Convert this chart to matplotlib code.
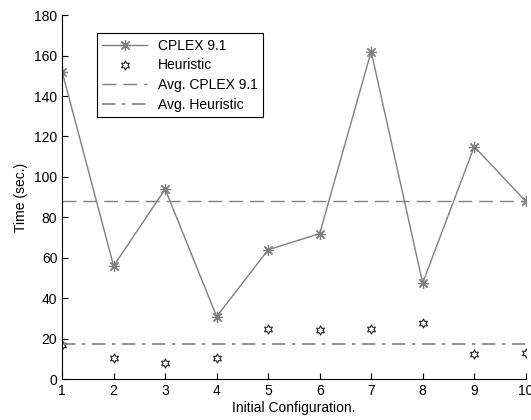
import numpy as np
import matplotlib
matplotlib.use("Agg")
import matplotlib.pyplot as plt
from matplotlib.path import Path

config = [1, 2, 3, 4, 5, 6, 7, 8, 9, 10]
cplex = [152, 56, 94, 31, 64, 72, 162, 47.5, 115, 88]
heuristic = [17, 10.7, 8, 10.7, 25, 24.5, 25, 27.7, 12.5, 13]

plt.rcParams['font.family'] = ['Liberation Sans', 'DejaVu Sans']
plt.rcParams['font.size'] = 10

# six-pointed star (like matlab's hexagram)
ang = np.pi / 2 + np.arange(12) * np.pi / 6
rad = np.where(np.arange(12) % 2 == 0, 1.0, 0.55)
verts = np.column_stack([rad * np.cos(ang), rad * np.sin(ang)])
verts = np.vstack([verts, verts[0]])
hexagram = Path(verts, [Path.MOVETO] + [Path.LINETO] * 11 + [Path.CLOSEPOLY])

fig = plt.figure(figsize=(5.31, 4.2), dpi=100)
ax = fig.add_axes([0.117, 0.097, 0.873, 0.867])

gray = '#808080'
ax.plot(config, cplex, color=gray, lw=1, marker=(8, 2, 0), ms=8, mfc=gray, mec=gray,
        mew=0.9, label='CPLEX 9.1')
ax.plot(config, heuristic, ls='none', marker=hexagram, ms=6.5, mfc='none',
        mec='#222222', mew=0.8, label='Heuristic')
ax.axhline(np.mean(cplex), color=gray, lw=1, ls=(0, (10, 5)), label='Avg. CPLEX 9.1')
ax.axhline(np.mean(heuristic), color=gray, lw=1.2, ls=(0, (8, 4, 2, 4)),
           label='Avg. Heuristic')

ax.set_xlim(1, 10)
ax.set_ylim(0, 180)
ax.set_xticks(config)
ax.set_yticks(range(0, 181, 20))
ax.spines['top'].set_visible(False)
ax.spines['right'].set_visible(False)
ax.tick_params(direction='in', length=4)
ax.set_xlabel('Initial Configuration.', labelpad=2)
ax.set_ylabel('Time (sec.)')

leg = ax.legend(loc='upper left', bbox_to_anchor=(0.075, 0.95), borderaxespad=0,
                fancybox=False, edgecolor='black', framealpha=1, handlelength=3.2,
                borderpad=0.4, labelspacing=0.4)
leg.get_frame().set_linewidth(0.8)

fig.savefig('out.png', dpi=100)
